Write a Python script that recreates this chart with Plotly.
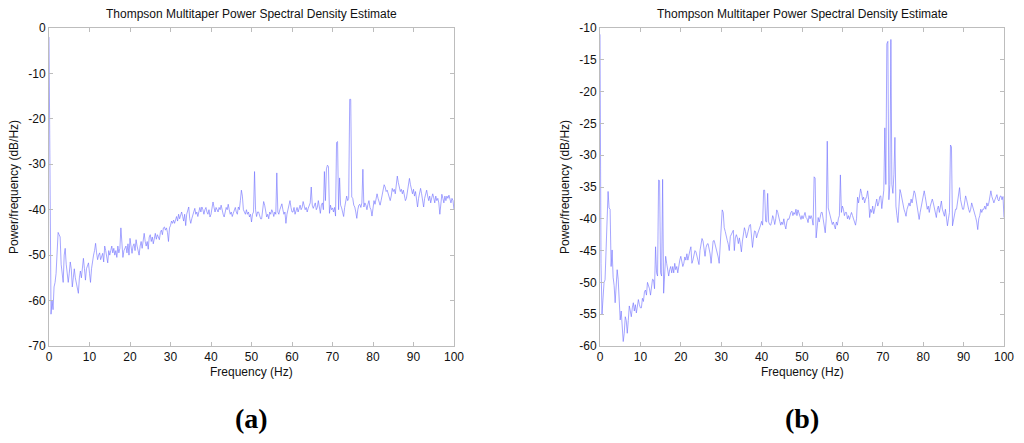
import plotly.graph_objects as go

# Frequency grid step (Hz) and number of samples, 0..100 Hz
FREQ_STEP = 0.25
N_POINTS = 401
freq = [i * FREQ_STEP for i in range(N_POINTS)]

# Panel (a) PSD values, dB/Hz, one row per 5 Hz
psd_a = (
    [-2, -33, -63, -60, -62, -57, -56, -54, -50, -45, -45.5, -46, -52, -54, -56, -50, -48.5, -52, -55, -56]
    + [-54, -51.5, -53, -57, -55, -53, -55, -56, -57, -58.4, -55, -53.5, -55, -52.5, -50.7, -53, -55.5, -53, -52, -51.7]
    + [-54, -56, -53, -51, -50, -49, -47.4, -49.5, -51, -50, -49.5, -51, -50, -49.6, -51.5, -48, -49, -50.5, -51.7, -49]
    + [-50, -49, -48, -49.5, -48.5, -50, -49, -50.5, -48, -49.5, -48.5, -44, -47, -50.5, -49, -48.5, -48, -49.5, -47.5, -50]
    + [-46.3, -48, -49.6, -48, -47.5, -49, -46.6, -48, -49, -50, -48, -47, -48.5, -46.5, -45.2, -47, -48, -47, -48.7, -46]
    + [-45.5, -47, -46, -47.5, -46, -45.2, -46.5, -45.5, -46, -46.6, -45, -44.5, -45.5, -44, -43.8, -44.5, -44, -45, -47, -44]
    + [-43.5, -42.5, -43, -42.3, -43, -42, -41.5, -42.5, -41, -42, -40.8, -40.5, -41.5, -42.5, -41, -43.5, -41, -40, -39.4, -42]
    + [-43, -42, -41, -40.5, -39.7, -41, -40.5, -41.5, -40, -39.5, -40.5, -39.4, -40, -41, -40, -39.5, -40.5, -41, -40, -41.6]
    + [-41, -40, -38.3, -39.5, -40.5, -39.5, -40, -40.5, -39.5, -40, -39, -40.5, -41, -41.6, -40, -39.5, -40, -38.8, -40, -41]
    + [-40.5, -41.5, -40.8, -40, -39.5, -40.5, -41, -39.4, -40, -38, -35.7, -37, -40, -40.5, -41, -40, -41, -40.5, -41.6, -41]
    + [-42.7, -41, -40.5, -31.6, -40, -41.5, -40.5, -40.5, -41.5, -42, -42, -40, -38.2, -39, -40.5, -41.6, -41, -42, -40.5, -41]
    + [-40, -40.5, -41.5, -40.5, -41, -31.9, -40.5, -41, -40, -39, -38.7, -40, -41, -40.5, -43, -41, -40, -38.5, -38, -39.5]
    + [-40.5, -40.5, -39.5, -41, -40, -39.5, -40.5, -39.4, -39, -40, -39.5, -38.2, -39, -40, -39.5, -40.5, -39.7, -39, -38.5, -35]
    + [-39, -39.7, -39, -38.5, -40, -39.5, -38, -39.5, -40.8, -39, -38.5, -40, -31.6, -38, -31, -30.2, -30.5, -40.8, -39, -40]
    + [-39.6, -40.5, -39.5, -41.4, -25.2, -25, -40, -33, -39, -39.6, -40.3, -41.5, -39.5, -38, -37, -38, -37.5, -15.7, -15.7, -37.2]
    + [-37.5, -39, -39.4, -40.5, -41.9, -40, -39, -38.8, -39.5, -38.5, -31.1, -39.4, -38.5, -39, -40, -38.8, -38, -39.5, -40, -41.4]
    + [-39.5, -38, -38.8, -37.5, -36.5, -37.5, -38.5, -39, -38, -37, -36, -34.5, -35, -36, -35.7, -36.5, -37, -38, -37, -35.3]
    + [-36, -35.5, -36.5, -35, -32.6, -34, -35, -36, -35.5, -36.5, -35.7, -37, -38, -37.5, -36, -34.5, -33.1, -34.5, -35.7, -36.5]
    + [-35.5, -37, -36, -38, -39.4, -37.5, -36.5, -35.3, -36.5, -38, -39.4, -37.5, -36.5, -35.7, -37, -38, -37, -38.5, -37.4, -36.5]
    + [-37.4, -38.5, -37, -38, -37.5, -38.5, -41, -38, -36.6, -37.5, -38.5, -37, -38, -37, -37.5, -36.8, -37.5, -38.5, -37.5, -38, -40]
)

# Panel (b) PSD values, dB/Hz, one row per 5 Hz
psd_b = (
    [-11, -47, -55, -53, -50, -49.6, -45.4, -41.8, -35.7, -38.3, -38.5, -47.5, -44.9, -49.2, -50.5, -53.2, -51, -48, -49.5, -52]
    + [-55.9, -54.5, -57.4, -59.3, -58, -55.4, -56, -58, -56, -53.7, -54.5, -55.4, -54, -53.2, -54.5, -53.5, -54.8, -53.5, -52.7, -53.5]
    + [-54, -54, -52.5, -53, -51.5, -51.2, -52, -50, -50.5, -51, -52, -50.5, -49.5, -49.6, -51, -44.4, -48.5, -49, -33.9, -34]
    + [-48.5, -49, -33.8, -51.7, -49, -45.9, -47, -48.5, -49, -48, -47.5, -48.5, -47.5, -48.5, -47, -48, -47.5, -48.5, -47, -46.5]
    + [-45.9, -46.5, -47.5, -47, -46, -46.5, -45.5, -46.5, -45.5, -45, -44.4, -47, -46.5, -45.5, -45, -45.2, -46, -47, -47.2, -45]
    + [-44, -43.1, -43.5, -45, -45.9, -44.5, -44, -43.9, -44.5, -45.5, -47, -44.5, -43.5, -43.4, -44, -44.4, -45, -46, -47, -44]
    + [-40, -38.6, -39, -41.4, -42, -43, -43.4, -44, -45, -42.8, -42.4, -42, -41.8, -45, -43, -42.5, -43, -43.9, -43, -44]
    + [-45.2, -43.5, -42, -41.4, -42, -43, -42.4, -41.5, -41, -40.9, -42.5, -44.5, -43, -41.9, -42, -43, -42.4, -42, -41.4, -41]
    + [-40.4, -41, -35.5, -35.5, -40.4, -40.5, -36, -40.5, -40.9, -41, -40.4, -39.5, -40, -40.9, -40, -38.6, -39, -40, -40.4, -41]
    + [-40.5, -40.9, -40, -41, -41.6, -40.5, -40, -40.1, -39.5, -39, -38.8, -39.5, -39, -39.3, -38.5, -39.5, -38.6, -39, -39.5, -40.1]
    + [-39.5, -40, -39.5, -39, -39.8, -40, -40.6, -39.5, -40, -39.5, -40, -41, -33.4, -33.6, -43, -41, -39.8, -40.5, -39.5, -39]
    + [-39, -40, -41, -42.2, -40, -27.8, -38.3, -39, -39.5, -40, -40.9, -40.5, -41, -41.6, -40.5, -41, -40, -39.5, -33.1, -39]
    + [-38, -38.5, -39.5, -39, -39, -40, -39.5, -40.1, -39.5, -39, -39.5, -40, -40.6, -41, -40, -36.6, -37.5, -36.5, -35.3, -36]
    + [-37, -36.6, -37.5, -36.9, -36.5, -35.6, -37, -39.8, -38.5, -39, -38, -39.2, -38.5, -37.5, -36.9, -38, -37.5, -36.5, -36.4, -38.4]
    + [-37, -35.5, -25.7, -34.6, -12.5, -12.1, -37, -34.6, -11.8, -34.6, -36, -33, -27.2, -38, -39.5, -40.6, -38, -35.4, -36, -37]
    + [-37.5, -38.5, -39, -39.6, -38.5, -38, -37.5, -38, -36.9, -37.5, -36.5, -35.6, -36, -37, -37.5, -38.5, -40.1, -39, -38, -37]
    + [-36.5, -35.6, -36.5, -38, -38.5, -38, -39, -38, -37.5, -36.9, -37.5, -38.5, -39, -39.8, -38.5, -38, -39, -38, -37.2, -38.5]
    + [-39, -39.6, -38.5, -39.5, -41.1, -40, -39, -28.4, -28.7, -41.1, -40, -39, -38.5, -38.5, -37.5, -36, -35.1, -37, -38, -38.5]
    + [-38.5, -37.5, -36.4, -37, -38, -38.5, -39, -38.5, -37.5, -38, -38.5, -39, -39.8, -40.5, -41.7, -40, -39.5, -38.5, -39, -38.5]
    + [-38.5, -38, -38.5, -37.5, -38, -37.5, -36.5, -35.6, -36.5, -37, -37.5, -37, -36.5, -36.2, -37, -37.2, -36.5, -36.4, -37, -36.5, -39.8]
)

x_ticks = [0, 10, 20, 30, 40, 50, 60, 70, 80, 90, 100]
y_ticks_a = [0, -10, -20, -30, -40, -50, -60, -70]
y_ticks_b = [-10, -15, -20, -25, -30, -35, -40, -45, -50, -55, -60]

TITLE = "Thompson Multitaper Power Spectral Density Estimate"
XLABEL = "Frequency (Hz)"
YLABEL = "Power/frequency (dB/Hz)"
PANEL_LABELS = ["(a)", "(b)"]

LINE_COLOR = "rgba(115,115,255,0.8)"
AXIS_COLOR = "#bdbdbd"
FONT = "Liberation Sans, Arial, sans-serif"

fig = go.Figure()
fig.add_trace(go.Scatter(x=freq, y=psd_a, mode="lines", xaxis="x", yaxis="y",
                         line=dict(color=LINE_COLOR, width=0.8), showlegend=False))
fig.add_trace(go.Scatter(x=freq, y=psd_b, mode="lines", xaxis="x2", yaxis="y2",
                         line=dict(color=LINE_COLOR, width=0.8), showlegend=False))

# The page body has an 8px margin; size the figure so it fits the window exactly
OFF = 8
W, H = 1024 - 2 * OFF, 443 - 2 * OFF

def px(xp):
    return (xp - OFF) / W

def py(yp):
    return 1 - (yp - OFF) / H

ydom = [py(346), py(28)]
xdom_a = [px(49), px(454)]
xdom_b = [px(600), px(1004)]

def xaxis(domain, anchor):
    return dict(domain=domain, anchor=anchor, range=[0, 100], tickvals=x_ticks,
                ticktext=[str(v) for v in x_ticks], automargin=False,
                showline=True, linecolor=AXIS_COLOR, linewidth=1, mirror="ticks",
                ticks="inside", ticklen=4, tickcolor=AXIS_COLOR, showgrid=False,
                zeroline=False, tickfont=dict(family=FONT, size=12, color="#111"))

def yaxis(domain, anchor, rng, ticks):
    return dict(domain=domain, anchor=anchor, range=rng, tickvals=ticks,
                ticktext=[str(v) for v in ticks], automargin=False,
                showline=True, linecolor=AXIS_COLOR, linewidth=1, mirror="ticks",
                ticks="inside", ticklen=4, tickcolor=AXIS_COLOR, showgrid=False,
                zeroline=False, tickfont=dict(family=FONT, size=12, color="#111"))

fig.update_layout(
    width=W, height=H,
    margin=dict(l=0, r=0, t=0, b=0, autoexpand=False),
    paper_bgcolor="white", plot_bgcolor="white",
    xaxis=xaxis(xdom_a, "y"),
    yaxis=yaxis(ydom, "x", [-70, 0], y_ticks_a),
    xaxis2=xaxis(xdom_b, "y2"),
    yaxis2=yaxis(ydom, "x2", [-60, -10], y_ticks_b),
)

annotations = []
for dom, ylab_x, label in [(xdom_a, 14, PANEL_LABELS[0]), (xdom_b, 565, PANEL_LABELS[1])]:
    cx = (dom[0] + dom[1]) / 2
    annotations.append(dict(text=TITLE, x=cx, y=py(14), xref="paper", yref="paper",
                            showarrow=False, xanchor="center", yanchor="middle",
                            font=dict(family=FONT, size=12, color="#111")))
    annotations.append(dict(text=XLABEL, x=cx, y=py(372), xref="paper", yref="paper",
                            showarrow=False, xanchor="center", yanchor="middle",
                            font=dict(family=FONT, size=12, color="#111")))
    annotations.append(dict(text=YLABEL, x=px(ylab_x), y=(ydom[0] + ydom[1]) / 2,
                            xref="paper", yref="paper", textangle=-90,
                            showarrow=False, xanchor="center", yanchor="middle",
                            font=dict(family=FONT, size=12, color="#111")))
    annotations.append(dict(text="<b>" + label + "</b>", x=cx, y=py(418),
                            xref="paper", yref="paper", showarrow=False,
                            xanchor="center", yanchor="middle",
                            font=dict(family="Liberation Serif, Times New Roman, serif",
                                      size=28, color="black")))
fig.update_layout(annotations=annotations)

fig.write_html("out.html")
